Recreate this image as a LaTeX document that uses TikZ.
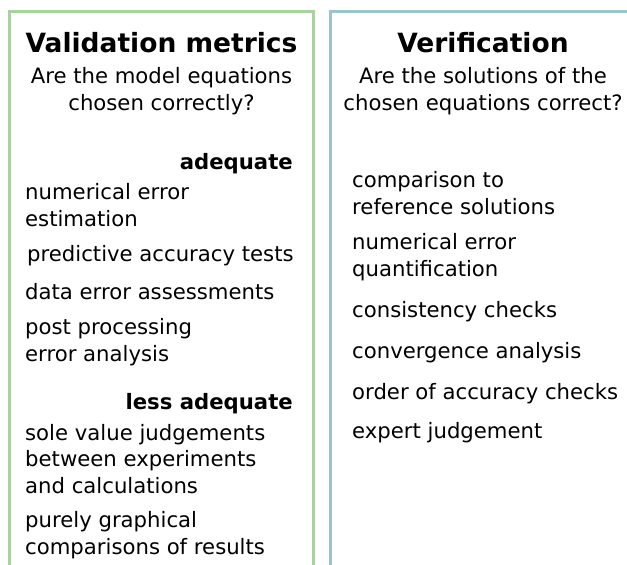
\documentclass[tikz,border=0pt]{standalone}
\usepackage{fontspec}
\setmainfont{DejaVu Sans}
\usepackage{xcolor}
\usetikzlibrary{positioning}

\definecolor{valgreen}{RGB}{166,212,156}
\definecolor{verblue}{RGB}{158,196,203}

\tikzset{
	heading/.style={font=\fontsize{26.5}{30}\selectfont\bfseries, inner sep=0pt, anchor=base},
	question/.style={font=\fontsize{21.2}{27}\selectfont, align=center, inner sep=0pt, anchor=base},
	grade/.style={font=\fontsize{21.2}{27}\selectfont\bfseries, inner sep=0pt, anchor=base east},
	item/.style={font=\fontsize{21.2}{26.5}\selectfont, align=left, inner sep=0pt, anchor=base west},
	panel/.style={line width=3pt}
}

\begin{document}
\begin{tikzpicture}[x=1pt, y=-1pt]
				\useasboundingbox (0,0) rectangle (627,565);
				
				% frames, open at the bottom
				\draw[panel, valgreen] (9,566) -- (9,11) -- (313.5,11) -- (313.5,566);
				\draw[panel, verblue] (330.5,566) -- (330.5,11) -- (630,11);
				
				% validation column (multi-line texts sit on their last line)
				\node[heading] (valT) at (161.5,52) {Validation metrics};
				\node[question] (valQ) at (161.5,110) {Are the model equations\\chosen correctly?};
				
				\node[grade] (adeq) at (293,169) {adequate};
				\node[item] (numest) at (25,226) {numerical error\\estimation};
				\node[item] (pred) at (27,261) {predictive accuracy tests};
				\node[item] (dataerr) at (25,299) {data error assessments};
				\node[item] (post) at (25,361) {post processing\\error analysis};
				
				\node[grade] (lessadeq) at (293,409) {less adequate};
				\node[item] (sole) at (25,493) {sole value judgements\\between experiments\\and calculations};
				\node[item] (graph) at (25,554) {purely graphical\\comparisons of results};
				
				% verification column
				\node[heading] (verT) at (483,52) {Verification};
				\node[question] (verQ) at (483,110) {Are the solutions of the\\chosen equations correct?};
				
				\node[item] (refsol) at (352,214) {comparison to\\reference solutions};
				\node[item] (numquant) at (352,276) {numerical error\\quantification};
				\node[item] (consist) at (352,317) {consistency checks};
				\node[item] (conv) at (352,358) {convergence analysis};
				\node[item] (order) at (352,399) {order of accuracy checks};
				\node[item] (expert) at (352,438) {expert judgement};
			\end{tikzpicture}
\end{document}
